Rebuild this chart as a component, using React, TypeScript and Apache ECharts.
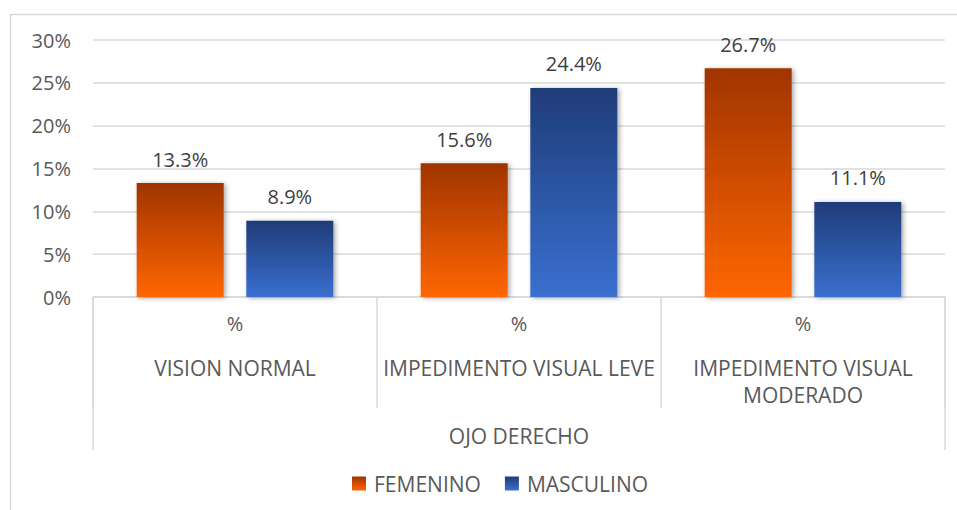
import React, { useEffect, useRef } from "react";
import * as echarts from "echarts";

// Category labels (line break where the long label wraps)
const categories = ["VISION NORMAL", "IMPEDIMENTO VISUAL LEVE", "IMPEDIMENTO VISUAL\nMODERADO"];
const unitLabels = ["%", "%", "%"];
const groupLabel = ["OJO DERECHO"];
const seriesNames = ["FEMENINO", "MASCULINO"];
const femenino = [0.133, 0.156, 0.267];
const masculino = [0.089, 0.244, 0.111];
const yTicks = { min: 0, max: 0.3, interval: 0.05 };

const FONT = "'Open Sans', sans-serif";
const TEXT = "#595959";
const LINE = "#d9d9d9";

const pct = (v: number) => `${(v * 100).toFixed(1)}%`;

const gradient = (top: string, bottom: string) =>
  new echarts.graphic.LinearGradient(0, 0, 0, 1, [
    { offset: 0, color: top },
    { offset: 1, color: bottom },
  ]);

export default function App() {
  const ref = useRef<HTMLDivElement>(null);

  useEffect(() => {
    if (!ref.current) return;
    const chart = echarts.init(ref.current, null, { renderer: "svg" });

    const barStyle = {
      shadowBlur: 5,
      shadowColor: "rgba(0,0,0,0.35)",
      shadowOffsetX: 2,
      shadowOffsetY: 1,
    };
    const labelStyle = {
      show: true,
      position: "top" as const,
      distance: 14,
      formatter: (p: any) => pct(p.value),
      fontFamily: FONT,
      fontSize: 20,
      color: "#404040",
    };

    chart.setOption({
      animation: false,
      backgroundColor: "#ffffff",
      textStyle: { fontFamily: FONT },
      graphic: [
        {
          type: "rect",
          shape: { x: 10.5, y: 14.5, width: 980, height: 540 },
          style: { fill: "none", stroke: LINE, lineWidth: 1.5 },
          silent: true,
        },
      ],
      grid: { left: 93, right: 12, top: 40, bottom: 213 },
      legend: {
        top: 468,
        left: 347,
        icon: "rect",
        itemWidth: 14,
        itemHeight: 14,
        itemGap: 24,
        textStyle: { fontFamily: FONT, fontSize: 21, color: TEXT, padding: [0, 0, 0, 3] },
        data: seriesNames,
      },
      yAxis: {
        type: "value",
        min: yTicks.min,
        max: yTicks.max,
        interval: yTicks.interval,
        axisLine: { show: false },
        axisTick: { show: false },
        axisLabel: {
          margin: 22,
          fontFamily: FONT,
          fontSize: 20,
          color: TEXT,
          formatter: (v: number) => `${Math.round(v * 100)}%`,
        },
        splitLine: { lineStyle: { color: LINE, width: 1.5 } },
      },
      xAxis: [
        {
          type: "category",
          position: "bottom",
          data: categories,
          axisLine: { show: true, lineStyle: { color: LINE, width: 1.5 } },
          axisTick: { show: true, length: 111, interval: 0, lineStyle: { color: LINE, width: 1.5 } },
          axisLabel: {
            interval: 0,
            margin: 16,
            fontFamily: FONT,
            fontSize: 20,
            color: TEXT,
            formatter: (_v: string, i: number) => unitLabels[i],
          },
        },
        {
          type: "category",
          position: "bottom",
          data: categories,
          axisLine: { show: false },
          axisTick: { show: false },
          axisLabel: {
            interval: 0,
            margin: 57,
            fontFamily: FONT,
            fontSize: 21,
            lineHeight: 27,
            color: TEXT,
          },
        },
        {
          type: "category",
          position: "bottom",
          data: groupLabel,
          axisLine: { show: false },
          axisTick: { show: true, length: 153, lineStyle: { color: LINE, width: 1.5 } },
          axisLabel: {
            margin: 129,
            fontFamily: FONT,
            fontSize: 21,
            lineHeight: 20,
            color: TEXT,
          },
        },
      ],
      series: [
        {
          name: seriesNames[0],
          type: "bar",
          xAxisIndex: 0,
          data: femenino,
          barWidth: 87,
          barGap: "26%",
          itemStyle: { color: gradient("#a03400", "#ff6600"), ...barStyle },
          label: labelStyle,
        },
        {
          name: seriesNames[1],
          type: "bar",
          xAxisIndex: 0,
          data: masculino,
          barWidth: 87,
          barGap: "26%",
          itemStyle: { color: gradient("#1f3c78", "#3a6fcf"), ...barStyle },
          label: labelStyle,
        },
      ],
    });

    return () => chart.dispose();
  }, []);

  return (
    <div
      ref={ref}
      style={{ position: "absolute", left: 0, top: 0, width: 957, height: 510 }}
    />
  );
}
